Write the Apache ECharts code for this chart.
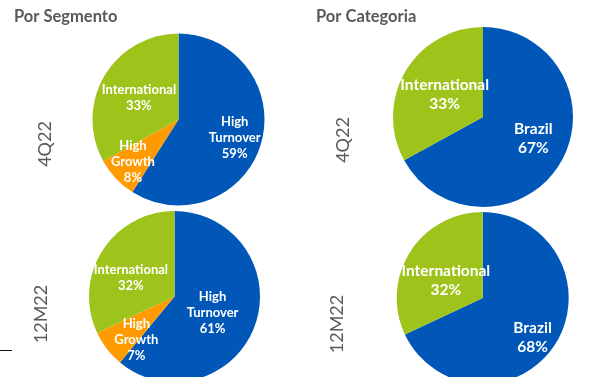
<!DOCTYPE html>
<html>
<head>
<meta charset="utf-8">
<script src="https://cdn.jsdelivr.net/npm/echarts@6/dist/echarts.min.js"></script>
<style>
html,body{margin:0;padding:0;background:#fff;}
#chart{width:589px;height:377px;}
</style>
</head>
<body>
<div id="chart"></div>
<script>
// ---- Data ----
const panelTitles = ['Por Segmento', 'Por Categoria'];
const periodLabels = ['4Q22', '12M22'];
const segCategories = ['High Turnover', 'High Growth', 'International'];
const seg4Q22 = [59, 8, 33];
const seg12M22 = [61, 7, 32];
const catCategories = ['Brazil', 'International'];
const cat4Q22 = [67, 33];
const cat12M22 = [68, 32];

// ---- Styles ----
const BLUE = '#0057B7', GREEN = '#9EC31B', ORANGE = '#FF9B00', GRAY = '#595959';
const segColors = [BLUE, ORANGE, GREEN];
const catColors = [BLUE, GREEN];
const FONT = 'Lato';

function makeData(cats, vals, colors, offsets) {
  return cats.map((c, i) => ({
    name: c, value: vals[i],
    itemStyle: { color: colors[i] },
    label: { offset: offsets[i] }
  }));
}

function pie(center, radius, data, fontSize, lineHeight) {
  return {
    type: 'pie',
    center: center,
    radius: radius,
    startAngle: 90,
    clockwise: true,
    avoidLabelOverlap: false,
    silent: true,
    itemStyle: { borderWidth: 0 },
    label: {
      show: true,
      position: 'inside',
      color: '#fff',
      fontFamily: FONT,
      fontWeight: 'bold',
      fontSize: fontSize,
      lineHeight: lineHeight,
      align: 'center',
      formatter: p => p.name.replace(' ', '\n') + '\n' + p.value + '%'
    },
    labelLine: { show: false },
    data: data
  };
}

const periodStyle = { fill: GRAY, font: '18px ' + FONT, align: 'center', verticalAlign: 'middle' };

const chart = echarts.init(document.getElementById('chart'), null, { renderer: 'canvas' });
chart.setOption({
  animation: false,
  backgroundColor: '#fff',
  series: [
    pie([178.5, 119.5], 86, makeData(segCategories, seg4Q22, segColors, [[12, 5], [-12, 11], [0, 2]]), 13, 16),
    pie([174.5, 296.5], 85.5, makeData(segCategories, seg12M22, segColors, [[-5, 1], [-2, 15], [-5, 6]]), 13, 16),
    pie([483, 117], 90, makeData(catCategories, cat4Q22, catColors, [[9, -3], [3, 2]]), 15.5, 19),
    pie([482.7, 298], 86, makeData(catCategories, cat12M22, catColors, [[11, 15], [2, 7]]), 15.5, 19)
  ],
  graphic: [
    { type: 'text', left: 14, top: 8, style: { text: panelTitles[0], fill: GRAY, font: 'bold 16.5px ' + FONT } },
    { type: 'text', left: 316, top: 8, style: { text: panelTitles[1], fill: GRAY, font: 'bold 16.5px ' + FONT } },
    { type: 'text', x: 45, y: 144, rotation: Math.PI / 2, style: Object.assign({ text: periodLabels[0] }, periodStyle) },
    { type: 'text', x: 343, y: 140, rotation: Math.PI / 2, style: Object.assign({ text: periodLabels[0] }, periodStyle) },
    { type: 'text', x: 41, y: 314, rotation: Math.PI / 2, style: Object.assign({ text: periodLabels[1] }, periodStyle) },
    { type: 'text', x: 337.5, y: 324, rotation: Math.PI / 2, style: Object.assign({ text: periodLabels[1] }, periodStyle) },
    { type: 'rect', x: 0, y: 350, shape: { x: 0, y: 0, width: 12, height: 1 }, style: { fill: '#111' } }
  ]
});
</script>
</body>
</html>
